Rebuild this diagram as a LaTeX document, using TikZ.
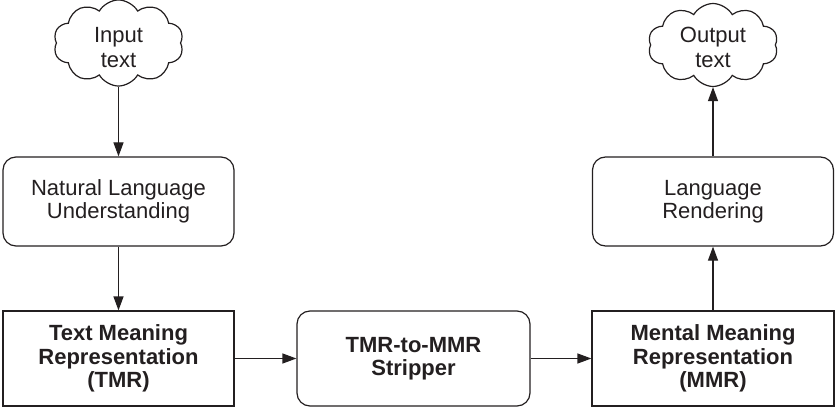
\documentclass[tikz,border=0pt]{standalone}
\usepackage{fontspec}
\setmainfont{Liberation Sans}
\usetikzlibrary{arrows.meta,shapes.symbols}

\definecolor{ink}{RGB}{35,31,32}

\tikzset{
  base/.style={draw=ink, line width=1.2pt, text=ink, align=center,
    font=\fontsize{22}{23.5}\selectfont, inner sep=0pt},
  roundbox/.style={base, rounded corners=13pt, minimum height=89pt},
  squarebox/.style={base, minimum height=95pt, font=\fontsize{22}{23.5}\selectfont\bfseries},
  stripbox/.style={base, rounded corners=13pt, minimum height=95pt, font=\fontsize{22}{23.5}\selectfont\bfseries},
  textcloud/.style={base, cloud, cloud puffs=10, cloud puff arc=120, aspect=1.6,
    minimum width=130pt, minimum height=83pt, font=\fontsize{22}{25}\selectfont},
  flow/.style={draw=ink, line width=1.2pt, -{Triangle[length=14pt,width=10pt]}}
}

\begin{document}
\begin{tikzpicture}[x=1pt,y=-1pt]
  \useasboundingbox (0,0) rectangle (835,409);

  % left column: input and understanding
  \node[textcloud] (in) at (118.5,43) {\rule{0pt}{24pt}Input\\text};
  \node[roundbox, minimum width=231pt] (nlu) at (118.5,201.5) {Natural Language\\Understanding};
  \node[squarebox, minimum width=231pt] (tmr) at (118.5,358.5) {Text Meaning\\Representation\\(TMR)};

  % middle: conversion step
  \node[stripbox, minimum width=233pt] (strip) at (413.5,358.5) {TMR-to-MMR\\Stripper};

  % right column: representation and rendering
  \node[squarebox, minimum width=242pt] (mmr) at (713,358.5) {Mental Meaning\\Representation\\(MMR)};
  \node[roundbox, minimum width=241pt] (lr) at (713,201.5) {Language\\Rendering};
  \node[textcloud] (out) at (713,45) {\rule{0pt}{20pt}Output\\text};

  % connectors
  \draw[flow] (in) -- (nlu);
  \draw[flow] (nlu) -- (tmr);
  \draw[flow] (tmr) -- (strip);
  \draw[flow] (strip) -- (mmr);
  \draw[flow] (mmr) -- (lr);
  \draw[flow] (lr) -- (out);
\end{tikzpicture}
\end{document}
